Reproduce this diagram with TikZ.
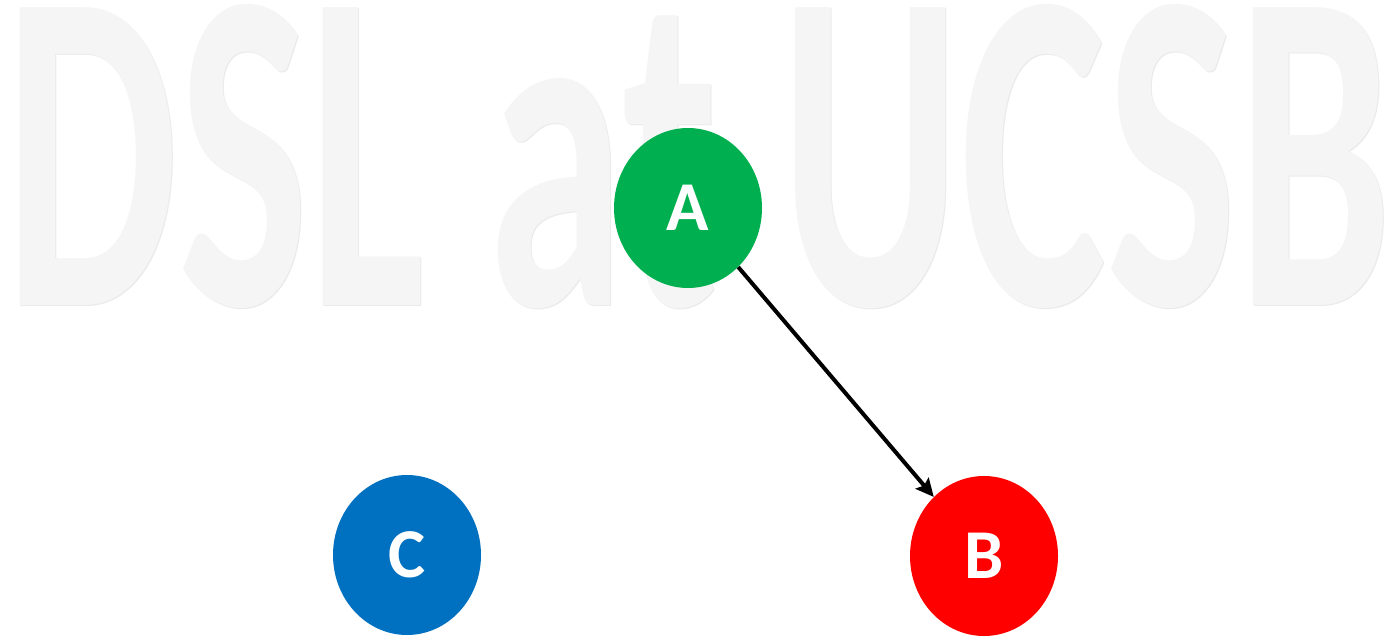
\documentclass[tikz,border=0pt]{standalone}
\usepackage{fontspec}
\usepackage{graphicx}
\usetikzlibrary{arrows.meta,shapes.geometric}
\newfontfamily\wmfont{Carlito}[BoldFont={* Bold}]
\definecolor{wmgray}{HTML}{F5F5F5}
\definecolor{wmshade}{HTML}{EAEAEA}
\definecolor{agreen}{HTML}{00B050}
\definecolor{bred}{HTML}{FF0000}
\definecolor{cblue}{HTML}{0070C0}
\tikzset{
  vert/.style={ellipse, minimum width=148pt, minimum height=160pt, inner sep=0pt,
    text=white, font=\wmfont\bfseries\fontsize{70}{70}\selectfont},
  edge/.style={line width=4pt, -{Stealth[length=18pt,width=17pt,inset=3pt]}},
  wm/.style={anchor=base west, inner sep=0pt}
}
\begin{document}
\begin{tikzpicture}[x=1pt,y=-1pt]
\useasboundingbox[fill=white] (0,0) rectangle (1391,636);
\node[wm, text=wmshade] (wmshadow) at (5,306) {\resizebox{1385pt}{300pt}{\wmfont\bfseries DSL at UCSB}};
\node[wm, text=wmgray] (wmtext) at (4,305) {\resizebox{1385pt}{300pt}{\wmfont\bfseries DSL at UCSB}};
\node[vert, fill=agreen] (A) at (688,208) {A};
\node[vert, fill=bred] (B) at (984,556) {B};
\node[vert, fill=cblue] (C) at (407,555) {C};
\draw[edge] (A) -- (B);
\end{tikzpicture}
\end{document}
